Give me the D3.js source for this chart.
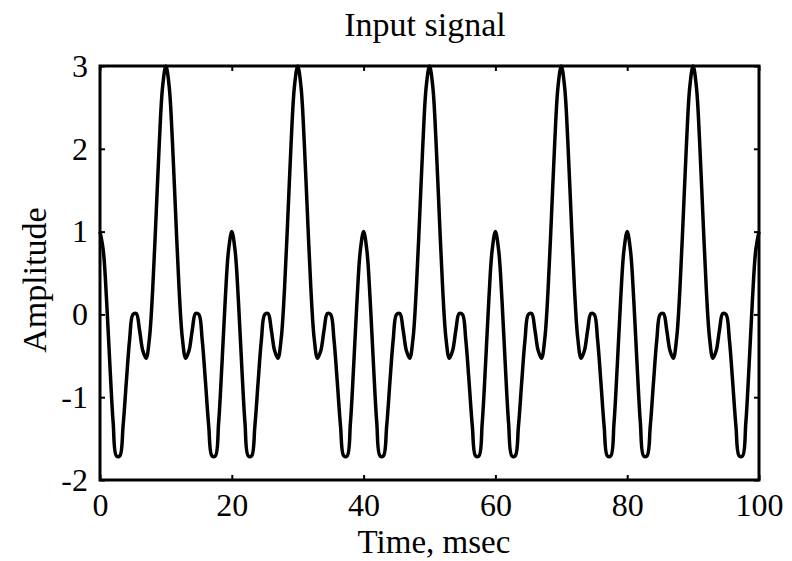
<!DOCTYPE html>
<html>
<head>
<meta charset="utf-8">
<script src="https://cdn.jsdelivr.net/npm/d3@7"></script>
<style>
  body { margin: 0; background: #fff; }
  text { font-family: "Liberation Serif", "DejaVu Serif", serif; fill: #000; }
</style>
</head>
<body>
<div class="chart"></div>
<script>
// size of the page
const w = 792;
const h = 561;

// sample spacing of the signal, msec
const sampleStep = 0.5;

// amplitude, every 0.5 msec from 0 to 100
const amplitude = [
  1, 0.77, 0.17, -0.61, -1.31, -1.71, -1.71, -1.35, -0.81, -0.3, 0, 0.01, -0.19, -0.44, -0.53, -0.29, 0.31, 1.17, 2.07, 2.75,
  3, 2.75, 2.07, 1.17, 0.31, -0.29, -0.53, -0.44, -0.19, 0.01, 0, -0.3, -0.81, -1.35, -1.71, -1.71, -1.31, -0.61, 0.17, 0.77,
  1, 0.77, 0.17, -0.61, -1.31, -1.71, -1.71, -1.35, -0.81, -0.3, 0, 0.01, -0.19, -0.44, -0.53, -0.29, 0.31, 1.17, 2.07, 2.75,
  3, 2.75, 2.07, 1.17, 0.31, -0.29, -0.53, -0.44, -0.19, 0.01, 0, -0.3, -0.81, -1.35, -1.71, -1.71, -1.31, -0.61, 0.17, 0.77,
  1, 0.77, 0.17, -0.61, -1.31, -1.71, -1.71, -1.35, -0.81, -0.3, 0, 0.01, -0.19, -0.44, -0.53, -0.29, 0.31, 1.17, 2.07, 2.75,
  3, 2.75, 2.07, 1.17, 0.31, -0.29, -0.53, -0.44, -0.19, 0.01, 0, -0.3, -0.81, -1.35, -1.71, -1.71, -1.31, -0.61, 0.17, 0.77,
  1, 0.77, 0.17, -0.61, -1.31, -1.71, -1.71, -1.35, -0.81, -0.3, 0, 0.01, -0.19, -0.44, -0.53, -0.29, 0.31, 1.17, 2.07, 2.75,
  3, 2.75, 2.07, 1.17, 0.31, -0.29, -0.53, -0.44, -0.19, 0.01, 0, -0.3, -0.81, -1.35, -1.71, -1.71, -1.31, -0.61, 0.17, 0.77,
  1, 0.77, 0.17, -0.61, -1.31, -1.71, -1.71, -1.35, -0.81, -0.3, 0, 0.01, -0.19, -0.44, -0.53, -0.29, 0.31, 1.17, 2.07, 2.75,
  3, 2.75, 2.07, 1.17, 0.31, -0.29, -0.53, -0.44, -0.19, 0.01, 0, -0.3, -0.81, -1.35, -1.71, -1.71, -1.31, -0.61, 0.17, 0.77,
  1
];

// tick labels
const xTicks = [0, 20, 40, 60, 80, 100];
const yTicks = [-2, -1, 0, 1, 2, 3];

// plot box
const boxLeft = 100;
const boxRight = 759;
const boxTop = 66;
const boxBottom = 480;

const x = d3.scaleLinear().domain([0, 100]).range([boxLeft, boxRight]);
const y = d3.scaleLinear().domain([-2, 3]).range([boxBottom, boxTop]);

const svg = d3
  .select(".chart")
  .append("svg")
  .attr("width", w)
  .attr("height", h);

// signal
const line = d3
  .line()
  .x((d, i) => x(i * sampleStep))
  .y((d) => y(d))
  .curve(d3.curveCatmullRom);

svg
  .append("path")
  .datum(amplitude)
  .attr("d", line)
  .attr("fill", "none")
  .attr("stroke", "#000")
  .attr("stroke-width", 3.5)
  .attr("stroke-linejoin", "round");

// plain hyphen minus, no decimals
const plain = (d) => String(d);

// axes, ticks pointing inward like matlab
const xBottom = d3.axisBottom(x).tickValues(xTicks).tickFormat(plain).tickSizeInner(-5).tickSizeOuter(0).tickPadding(13);
const xTop = d3.axisTop(x).tickValues(xTicks).tickSizeInner(-5).tickSizeOuter(0).tickFormat("");
const yLeft = d3.axisLeft(y).tickValues(yTicks).tickFormat(plain).tickSizeInner(-5).tickSizeOuter(0).tickPadding(12);
const yRight = d3.axisRight(y).tickValues(yTicks).tickSizeInner(-5).tickSizeOuter(0).tickFormat("");

const axes = [
  svg.append("g").attr("transform", `translate(0,${boxBottom})`).call(xBottom),
  svg.append("g").attr("transform", `translate(0,${boxTop})`).call(xTop),
  svg.append("g").attr("transform", `translate(${boxLeft},0)`).call(yLeft),
  svg.append("g").attr("transform", `translate(${boxRight},0)`).call(yRight),
];

axes.forEach((g) => {
  g.select(".domain").remove();
  g.selectAll(".tick line").attr("stroke", "#000").attr("stroke-width", 2);
  g.selectAll(".tick text")
    .attr("font-family", "Liberation Serif, serif")
    .attr("font-size", 32)
    .attr("fill", "#000");
});

// frame
svg
  .append("rect")
  .attr("x", boxLeft)
  .attr("y", boxTop)
  .attr("width", boxRight - boxLeft)
  .attr("height", boxBottom - boxTop)
  .attr("fill", "none")
  .attr("stroke", "#000")
  .attr("stroke-width", 3);

// titles
svg
  .append("text")
  .attr("x", 425)
  .attr("y", 36)
  .attr("text-anchor", "middle")
  .attr("font-size", 34)
  .text("Input signal");

svg
  .append("text")
  .attr("x", 434)
  .attr("y", 553)
  .attr("text-anchor", "middle")
  .attr("font-size", 33)
  .text("Time, msec");

svg
  .append("text")
  .attr("transform", "translate(46,280) rotate(-90)")
  .attr("text-anchor", "middle")
  .attr("font-size", 34)
  .text("Amplitude");
</script>
</body>
</html>
